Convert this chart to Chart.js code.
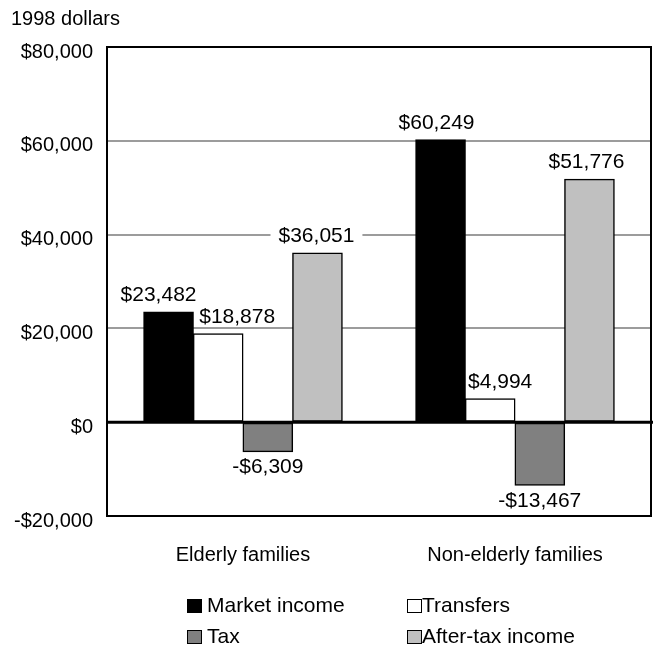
<!DOCTYPE html>
<html>
<head>
<meta charset="utf-8">
<script src="https://cdn.jsdelivr.net/npm/chart.js@4.4.1/dist/chart.umd.min.js"></script>
<style>
    html, body { margin: 0; padding: 0; background: #fff; }
    #wrap { width: 653px; height: 645px; }
</style>
</head>
<body>
<div id="wrap"><canvas id="incomeChart" width="653" height="645"></canvas></div>
<script>
// Data
const categories = ['Elderly families', 'Non-elderly families'];
const seriesNames = ['Market income', 'Transfers', 'Tax', 'After-tax income'];
const marketIncome = [23482, 60249];
const transfers = [18878, 4994];
const tax = [-6309, -13467];
const afterTaxIncome = [36051, 51776];
const yTicks = [-20000, 0, 20000, 40000, 60000, 80000];
const unitLabel = '1998 dollars';

// Styling
const FONT = '"Liberation Sans", Arial, Helvetica, sans-serif';
const fills = ['#000000', '#ffffff', '#808080', '#c0c0c0'];
const labelShift = [[-10, -4], [19, 10], [0, 0], [-1, -3]];  // x nudges of value labels

function money(v) {
    return (v < 0 ? '-$' : '$') + Math.abs(v).toLocaleString('en-US');
}

// walk every bar and hand back where its value label goes
function eachLabel(chart, fn) {
    chart.data.datasets.forEach((ds, di) => {
        const meta = chart.getDatasetMeta(di);
        meta.data.forEach((bar, i) => {
            const v = ds.data[i];
            const x = bar.x + labelShift[di][i];
            fn(money(v), x, bar.y, v < 0);
        });
    });
}

const decorations = {
    id: 'decorations',
    beforeDatasetsDraw(chart) {
        // white patch behind each label so gridlines break around it
        const ctx = chart.ctx;
        ctx.save();
        ctx.font = '21px ' + FONT;
        ctx.fillStyle = '#fff';
        eachLabel(chart, (text, x, y, neg) => {
            const w = ctx.measureText(text).width + 16;
            const top = neg ? y + 3 : y - 30;
            ctx.fillRect(x - w / 2, top, w, 22);
        });
        ctx.restore();
    },
    afterDatasetsDraw(chart) {
        const ctx = chart.ctx;
        const area = chart.chartArea;
        const zeroY = chart.scales.y.getPixelForValue(0);
        ctx.save();

        // frame
        ctx.strokeStyle = '#000';
        ctx.lineWidth = 2;
        ctx.strokeRect(area.left, area.top, area.right - area.left, area.bottom - area.top);

        // zero line runs past the right edge
        ctx.lineWidth = 3;
        ctx.beginPath();
        ctx.moveTo(area.left, zeroY);
        ctx.lineTo(chart.width, zeroY);
        ctx.stroke();

        // value labels
        ctx.font = '21px ' + FONT;
        ctx.fillStyle = '#000';
        ctx.textAlign = 'center';
        eachLabel(chart, (text, x, y, neg) => {
            if (neg) {
                ctx.textBaseline = 'top';
                ctx.fillText(text, x, y + 5);
            } else {
                ctx.textBaseline = 'alphabetic';
                ctx.fillText(text, x, y - 11);
            }
        });
        ctx.restore();
    },
    afterDraw(chart) {
        const ctx = chart.ctx;
        ctx.save();
        ctx.fillStyle = '#000';
        ctx.textBaseline = 'alphabetic';
        ctx.textAlign = 'left';

        // unit note above the axis
        ctx.font = '20px ' + FONT;
        ctx.fillText(unitLabel, 11, 25);

        // legend, two by two
        const colX = [187, 407];
        const textX = [207, 422];
        const rowY = [612, 643];
        ctx.font = '21px ' + FONT;
        seriesNames.forEach((name, i) => {
            const c = i % 2;
            const r = Math.floor(i / 2);
            ctx.fillStyle = fills[i];
            ctx.fillRect(colX[c], rowY[r] - 13, 15, 14);
            ctx.strokeStyle = '#000';
            ctx.lineWidth = 1;
            ctx.strokeRect(colX[c] + 0.5, rowY[r] - 12.5, 14, 13);
            ctx.fillStyle = '#000';
            ctx.fillText(name, textX[c], rowY[r]);
        });
        ctx.restore();
    }
};

const seriesData = [marketIncome, transfers, tax, afterTaxIncome];

new Chart(document.getElementById('incomeChart'), {
    type: 'bar',
    data: {
        labels: categories,
        datasets: seriesNames.map((name, i) => ({
            label: name,
            data: seriesData[i],
            backgroundColor: fills[i],
            borderColor: '#000',
            borderWidth: 1.5,
            borderSkipped: false,
            inflateAmount: 0.5,
            categoryPercentage: 0.73,
            barPercentage: 1.0
        }))
    },
    options: {
        responsive: false,
        animation: false,
        layout: {
            padding: { top: 47, right: 2, left: 0, bottom: 0 }
        },
        plugins: {
            legend: { display: false },
            tooltip: { enabled: false }
        },
        scales: {
            x: {
                grid: { display: false, drawTicks: false },
                border: { display: false },
                ticks: {
                    color: '#000',
                    font: { family: FONT, size: 20 },
                    padding: 27
                },
                afterFit: function(scale) {
                    scale.height = 129;
                }
            },
            y: {
                min: yTicks[0],
                max: yTicks[yTicks.length - 1],
                border: { display: false },
                grid: {
                    drawTicks: false,
                    lineWidth: 2,
                    color: function(ctx) {
                        const v = ctx.tick ? ctx.tick.value : null;
                        return (v > 0 && v < 80000) ? '#9c9c9c' : 'rgba(0,0,0,0)';
                    }
                },
                ticks: {
                    stepSize: yTicks[1] - yTicks[0],
                    color: '#000',
                    font: { family: FONT, size: 20 },
                    padding: 14,
                    labelOffset: 5,
                    callback: function(value) {
                        return money(value);
                    }
                },
                afterFit: function(scale) {
                    scale.width = 107;
                }
            }
        }
    },
    plugins: [decorations]
});
</script>
</body>
</html>
